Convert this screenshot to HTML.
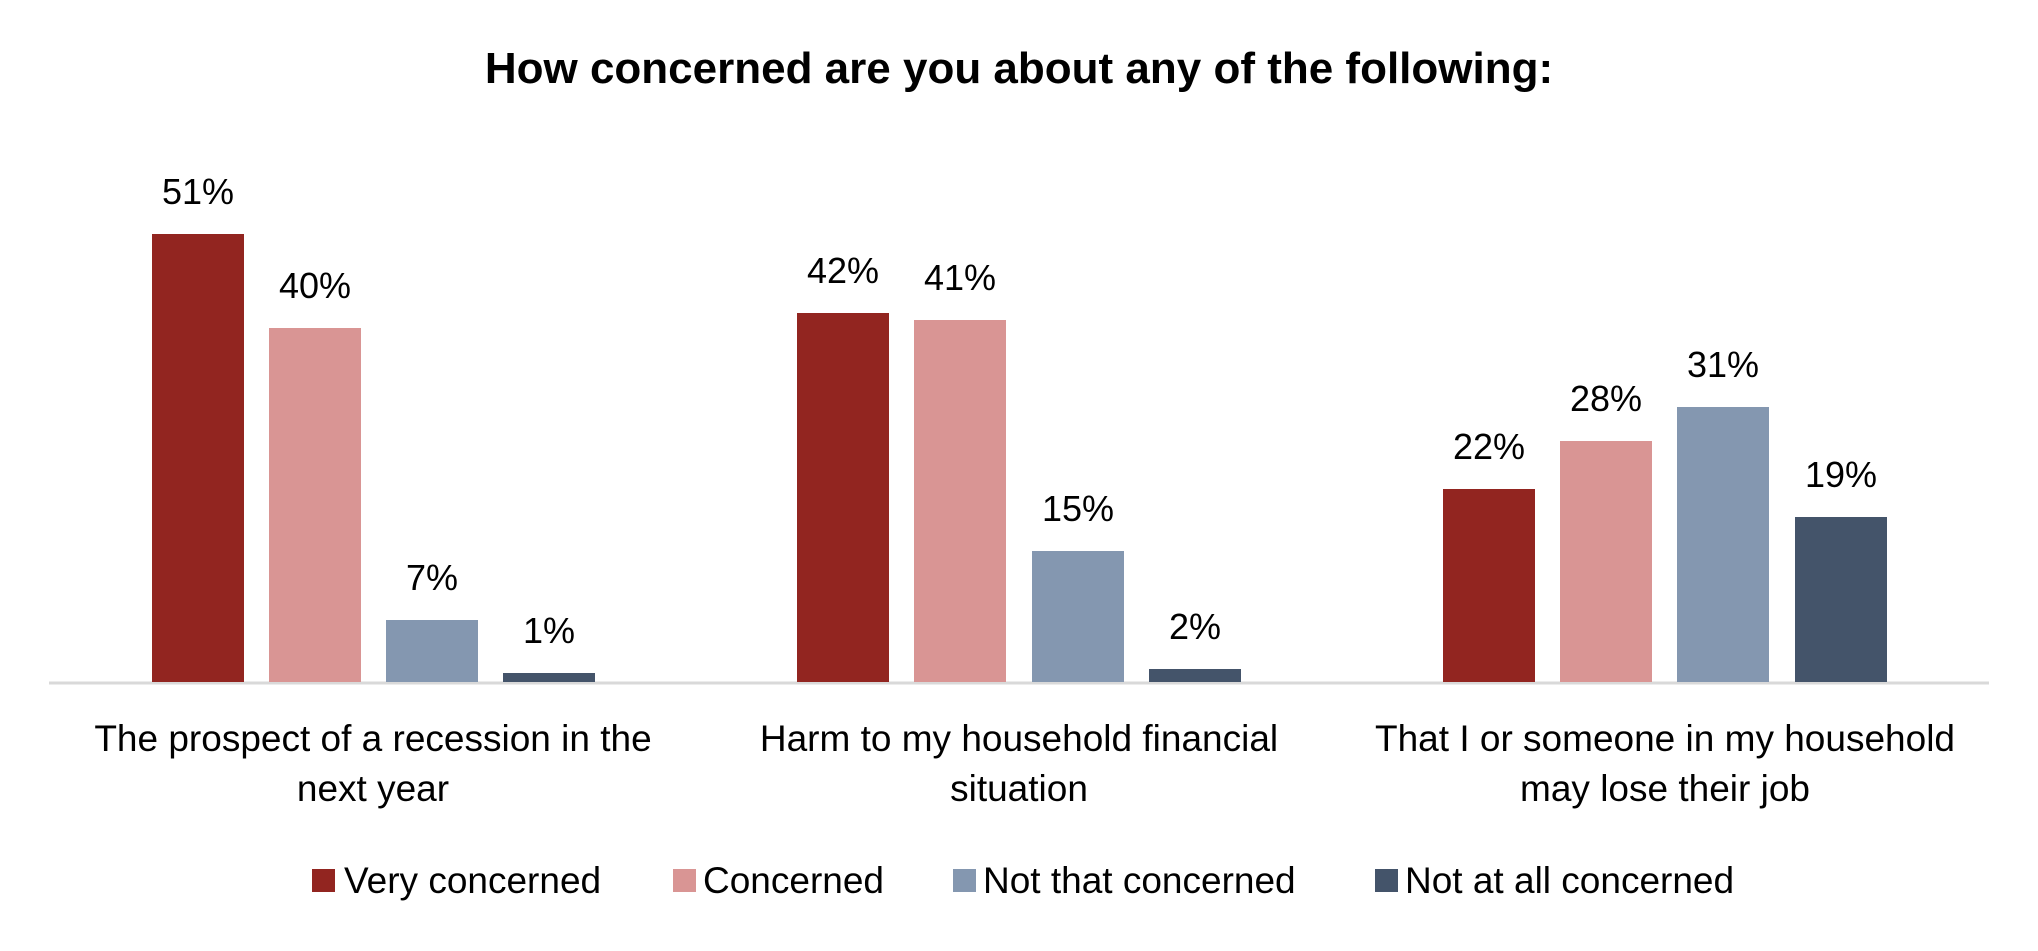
<!DOCTYPE html>
<html><head><meta charset="utf-8"><style>
body{margin:0;background:#fff;}
svg text{font-family:"Liberation Sans",sans-serif;fill:#000;}
</style></head><body>
<svg width="2038" height="946" xmlns="http://www.w3.org/2000/svg">
<text x="1019" y="83" text-anchor="middle" font-size="44" font-weight="bold">How concerned are you about any of the following:</text>
<line x1="49" y1="683" x2="1989" y2="683" stroke="#D9D9D9" stroke-width="3"/>
<g font-size="36" text-anchor="middle">
<rect x="152" y="234" width="92" height="448" fill="#922520"/><text x="198" y="204">51%</text>
<rect x="269" y="328" width="92" height="354" fill="#D99594"/><text x="315" y="298">40%</text>
<rect x="386" y="620" width="92" height="62" fill="#8497B0"/><text x="432" y="590">7%</text>
<rect x="503" y="673" width="92" height="9" fill="#44546A"/><text x="549" y="643">1%</text>
<rect x="797" y="313" width="92" height="369" fill="#922520"/><text x="843" y="283">42%</text>
<rect x="914" y="320" width="92" height="362" fill="#D99594"/><text x="960" y="290">41%</text>
<rect x="1032" y="551" width="92" height="131" fill="#8497B0"/><text x="1078" y="521">15%</text>
<rect x="1149" y="669" width="92" height="13" fill="#44546A"/><text x="1195" y="639">2%</text>
<rect x="1443" y="489" width="92" height="193" fill="#922520"/><text x="1489" y="459">22%</text>
<rect x="1560" y="441" width="92" height="241" fill="#D99594"/><text x="1606" y="411">28%</text>
<rect x="1677" y="407" width="92" height="275" fill="#8497B0"/><text x="1723" y="377">31%</text>
<rect x="1795" y="517" width="92" height="165" fill="#44546A"/><text x="1841" y="487">19%</text>
</g>
<g font-size="37" text-anchor="middle">
<text x="373" y="751">The prospect of a recession in the</text>
<text x="373" y="801">next year</text>
<text x="1019" y="751">Harm to my household financial</text>
<text x="1019" y="801">situation</text>
<text x="1665" y="751">That I or someone in my household</text>
<text x="1665" y="801">may lose their job</text>
</g>
<g font-size="37">
<rect x="312" y="869" width="23" height="23" fill="#922520"/><text x="344" y="893">Very concerned</text>
<rect x="673" y="869" width="23" height="23" fill="#D99594"/><text x="703" y="893">Concerned</text>
<rect x="953" y="869" width="23" height="23" fill="#8497B0"/><text x="983" y="893">Not that concerned</text>
<rect x="1375" y="869" width="23" height="23" fill="#44546A"/><text x="1405" y="893">Not at all concerned</text>
</g>
</svg>
</body></html>
